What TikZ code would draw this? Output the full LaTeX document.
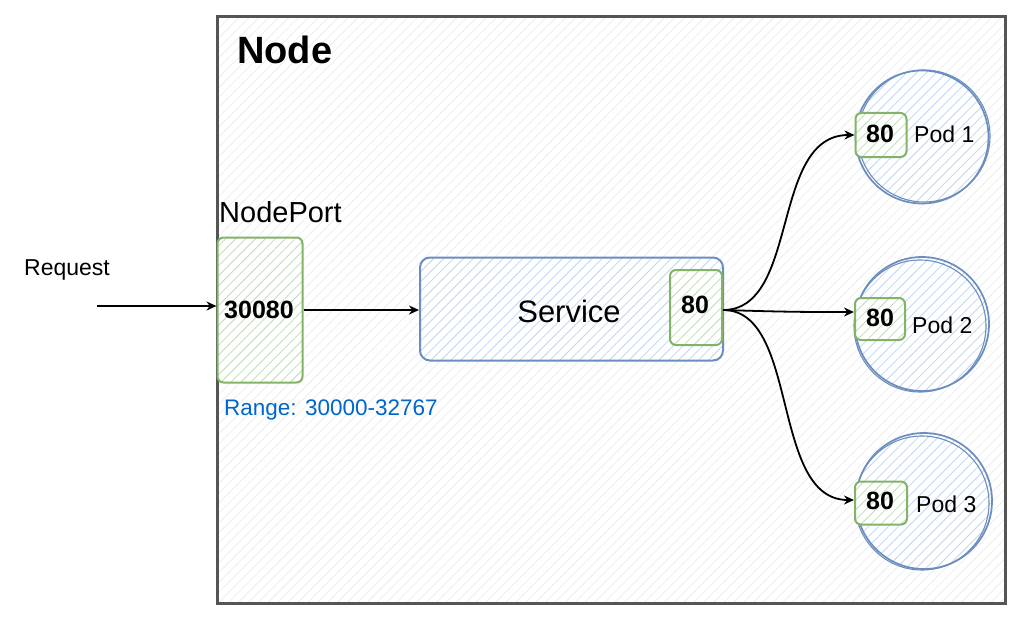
\documentclass[tikz,border=0pt]{standalone}
\usepackage{fontspec}
\setmainfont{Liberation Sans}
\usetikzlibrary{arrows.meta,patterns.meta}
\definecolor{gstroke}{HTML}{82B366}
\definecolor{gfill}{HTML}{BFDDB8}
\definecolor{bstroke}{HTML}{6C8EBF}
\definecolor{bfill}{HTML}{C0D6F3}
\definecolor{nodegray}{HTML}{555555}
\definecolor{rangeblue}{HTML}{0066CC}
\tikzset{
  hatch/.style={preaction={fill=white}, pattern={Lines[angle=45,distance=7pt,line width=0.8pt]}, pattern color=#1},
  outerbox/.style={draw=nodegray, line width=2.2pt, hatch=gray!13, minimum width=788pt, minimum height=587pt, inner sep=0pt},
  greenbox/.style={draw=gstroke, line width=2pt, rounded corners=6pt, hatch=gfill, inner sep=0pt},
  bluebox/.style={draw=bstroke, line width=2pt, rounded corners=10pt, hatch=bfill, inner sep=0pt},
  podcircle/.style={circle, draw=bstroke, line width=1.7pt, hatch=bfill, inner sep=0pt, minimum size=#1},
  sketchline/.style={draw=bstroke, line width=1.1pt},
  label/.style={inner sep=0pt, text=black},
  arr/.style={-{Stealth[open,length=10pt,width=9pt]}, line width=1.8pt, black},
  port/.style={font=\fontsize{25}{28}\selectfont\bfseries},
}
\begin{document}
\begin{tikzpicture}[x=1pt,y=-1pt]
\useasboundingbox (0,0) rectangle (1024,623);
% Node frame
\node[outerbox] (frame) at (611.5,310) {};
\node[label, font=\fontsize{38}{42}\selectfont\bfseries, anchor=west] (title) at (237,50) {Node};
% NodePort
\node[label, font=\fontsize{29}{32}\selectfont, anchor=west] (nplabel) at (219,212) {NodePort};
\node[greenbox, minimum width=85pt, minimum height=145pt] (np) at (260,310) {};
\node[port] (npnum) at (259,310) {30080};
\node[label, text=rangeblue, font=\fontsize{22.5}{25}\selectfont, anchor=west] (range) at (224,410) {Range: 30000-32767};
% Request
\node[label, font=\fontsize{23}{26}\selectfont] (reqlabel) at (67,270) {Request};
\coordinate (reqstart) at (97,306);
% Service
\node[bluebox, minimum width=303pt, minimum height=103pt] (svc) at (571.5,309) {};
\node[label, font=\fontsize{31}{34}\selectfont] (svctext) at (569,311) {Service};
\node[greenbox, minimum width=52pt, minimum height=75pt] (s80) at (696,307.5) {};
\node[port] (s80t) at (695,305) {80};
% Pods
\node[podcircle=133pt] (pod1) at (922,137) {};
\draw[sketchline] (924,136) circle (66pt);
\node[podcircle=134pt] (pod2) at (922,324) {};
\draw[sketchline] (920,326) circle (66pt);
\node[podcircle=136pt] (pod3) at (924,501) {};
\draw[sketchline] (922,503) circle (67pt);
\node[greenbox, minimum width=51pt, minimum height=44pt] (pp1) at (881,135) {};
\node[port] (pp1t) at (880,134) {80};
\node[label, font=\fontsize{23}{26}\selectfont, anchor=west] (pod1t) at (914,134) {Pod 1};
\node[greenbox, minimum width=50pt, minimum height=42pt] (pp2) at (880,319) {};
\node[port] (pp2t) at (880,318) {80};
\node[label, font=\fontsize{23}{26}\selectfont, anchor=west] (pod2t) at (912,325) {Pod 2};
\node[greenbox, minimum width=52pt, minimum height=43pt] (pp3) at (881,503) {};
\node[port] (pp3t) at (880,501) {80};
\node[label, font=\fontsize{23}{26}\selectfont, anchor=west] (pod3t) at (916,504) {Pod 3};
% Connectors
\draw[arr] (reqstart) -- (np.west |- reqstart);
\draw[arr] (np.east |- 0,310) -- (svc.west |- 0,310);
\draw[arr] (s80.east |- 0,310) .. controls (800,310) and (770,135) .. (pp1.west);
\draw[arr] (s80.east |- 0,310) .. controls (790,312) and (800,312) .. (pp2.west |- 0,312);
\draw[arr] (s80.east |- 0,310) .. controls (800,310) and (770,500) .. (pp3.west |- 0,500);
\end{tikzpicture}
\end{document}
